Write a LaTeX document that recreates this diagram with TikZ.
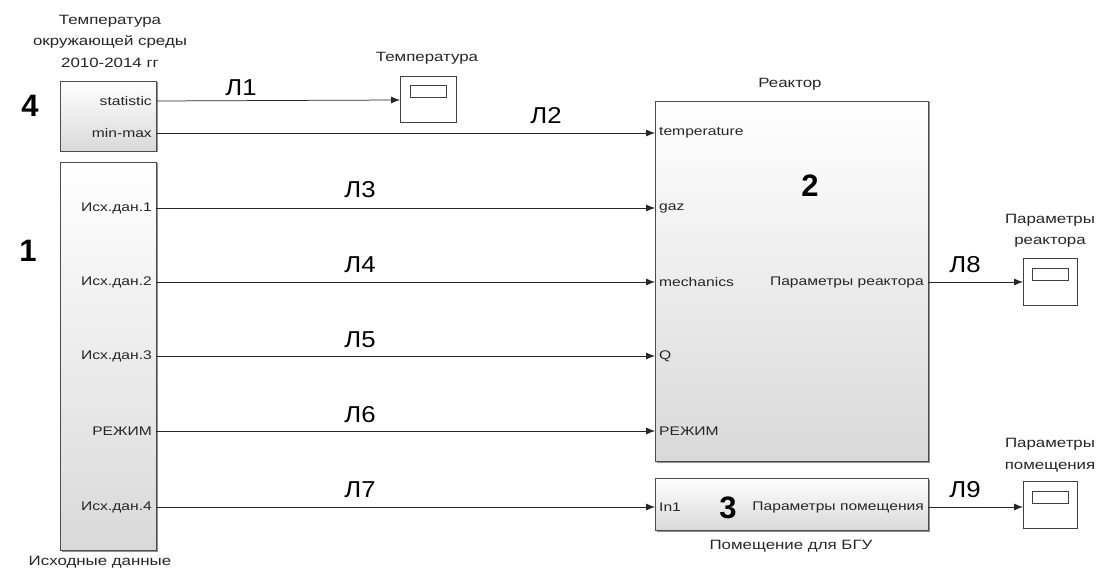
\documentclass[tikz,border=0pt]{standalone}
\usepackage{fontspec}
\setmainfont{Liberation Sans}
\newfontfamily\widesans[FakeStretch=1.25]{Liberation Sans}
\newfontfamily\labsans[FakeStretch=1.12]{Liberation Sans}
\usetikzlibrary{arrows.meta,shadows}
\begin{document}
\begin{tikzpicture}[x=1pt,y=-1pt,
  blk/.style={draw=black!70,line width=0.8pt,top color=white,bottom color=black!15,
     drop shadow={shadow xshift=1.5pt,shadow yshift=-1.5pt,fill=black!55,opacity=0.8}},
  scope/.style={draw=black!75,line width=0.8pt,fill=white,
     drop shadow={shadow xshift=1.2pt,shadow yshift=-1.2pt,fill=black!50,opacity=0.8}},
  port/.style={font=\widesans\fontsize{12.5}{14}\selectfont,text=black!85,inner sep=1pt},
  ttl/.style={font=\widesans\fontsize{13.5}{21.5}\selectfont,text=black!85,align=center,inner sep=0pt},
  lbl/.style={font=\labsans\fontsize{23}{26}\selectfont,inner sep=0pt},
  big/.style={font=\fontsize{31}{34}\bfseries\selectfont,inner sep=0pt},
  wire/.style={draw=black!85,line width=0.75pt},
  arr/.style={wire,-{Latex[length=9pt,width=7pt]}}]
\useasboundingbox (0,0) rectangle (1099,572);

% block 4
\draw[blk] (60,81) rectangle (156,151);
\node[ttl] (t4) at (110,41) {Температура\\окружающей среды\\2010-2014 гг};
\node[port,anchor=east] (p4a) at (153,101) {statistic};
\node[port,anchor=east] (p4b) at (153,133) {min-max};
\coordinate (o4a) at (156,101);
\coordinate (o4b) at (156,133);
\node[big] (n4) at (30,106) {4};

% block 1
\draw[blk] (60,162) rectangle (156,550);
\node[port,anchor=east] (p1a) at (153,208) {Исх.дан.1};
\node[port,anchor=east] (p1b) at (153,282) {Исх.дан.2};
\node[port,anchor=east] (p1c) at (153,356) {Исх.дан.3};
\node[port,anchor=east] (p1d) at (153,431) {РЕЖИМ};
\node[port,anchor=east] (p1e) at (153,507) {Исх.дан.4};
\coordinate (o1a) at (156,208);
\coordinate (o1b) at (156,282);
\coordinate (o1c) at (156,356);
\coordinate (o1d) at (156,431);
\coordinate (o1e) at (156,507);
\node[ttl] (t1) at (100,562) {Исходные данные};
\node[big] (n1) at (28,251) {1};

% scope temperature
\draw[scope] (400,76) rectangle (456,122);
\draw[line width=0.8pt,draw=black!75] (410,85) rectangle (446,97);
\coordinate (s1) at (400,100);
\node[ttl] (ts1) at (427,58) {Температура};

% reactor
\draw[blk] (655,101) rectangle (928,461);
\node[ttl] (tr) at (790,84) {Реактор};
\node[port,anchor=west] (r1) at (658,133) {temperature};
\node[port,anchor=west] (r2) at (658,208) {gaz};
\node[port,anchor=west] (r3) at (658,282) {mechanics};
\node[port,anchor=west] (r4) at (658,356) {Q};
\node[port,anchor=west] (r5) at (658,431) {РЕЖИМ};
\node[port,anchor=east] (ro) at (925,282) {Параметры реактора};
\coordinate (i1) at (655,133);
\coordinate (i2) at (655,208);
\coordinate (i3) at (655,282);
\coordinate (i4) at (655,356);
\coordinate (i5) at (655,431);
\coordinate (oR) at (928,282);
\node[big] (n2) at (810,186) {2};

% room block
\draw[blk] (655,478) rectangle (928,530);
\node[port,anchor=west] (q1) at (658,507) {In1};
\node[port,anchor=east] (qo) at (925,507) {Параметры помещения};
\coordinate (i6) at (655,507);
\coordinate (oQ) at (928,507);
\node[big] (n3) at (728,508) {3};
\node[ttl] (t3) at (791,546) {Помещение для БГУ};

% scope reactor
\draw[scope] (1023,258) rectangle (1077,305);
\draw[line width=0.8pt,draw=black!75] (1032,268) rectangle (1068,280);
\coordinate (s2) at (1023,282);
\node[ttl] (ts2) at (1050,231) {Параметры\\реактора};

% scope room
\draw[scope] (1023,481) rectangle (1077,528);
\draw[line width=0.8pt,draw=black!75] (1032,491) rectangle (1068,503);
\coordinate (s3) at (1023,507);
\node[ttl] (ts3) at (1050,455) {Параметры\\помещения};

% wires
\draw[arr] (o4a) -- (s1);
\draw[arr] (o4b) -- (i1);
\draw[arr] (o1a) -- (i2);
\draw[arr] (o1b) -- (i3);
\draw[arr] (o1c) -- (i4);
\draw[arr] (o1d) -- (i5);
\draw[arr] (o1e) -- (i6);
\draw[arr] (oR) -- (s2);
\draw[arr] (oQ) -- (s3);

% wire labels
\node[lbl] (L1) at (241,88) {Л1};
\node[lbl] (L2) at (546,116) {Л2};
\node[lbl] (L3) at (360,190) {Л3};
\node[lbl] (L4) at (360,265) {Л4};
\node[lbl] (L5) at (360,340) {Л5};
\node[lbl] (L6) at (360,415) {Л6};
\node[lbl] (L7) at (360,490) {Л7};
\node[lbl] (L8) at (965,265) {Л8};
\node[lbl] (L9) at (965,490) {Л9};
\end{tikzpicture}
\end{document}
